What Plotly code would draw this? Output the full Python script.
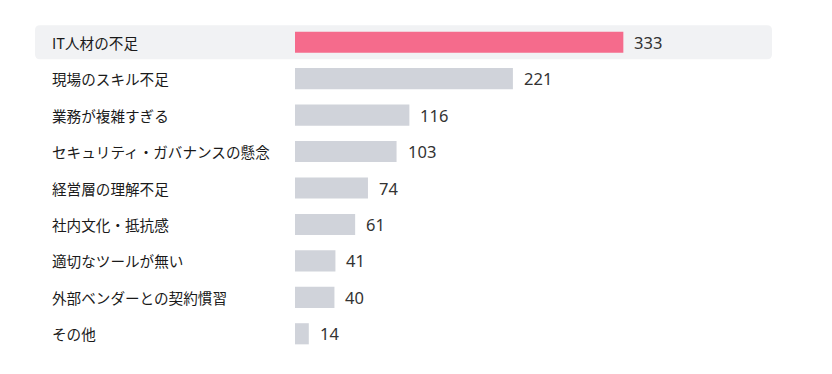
import plotly.graph_objects as go

categories = ["IT人材の不足", "現場のスキル不足", "業務が複雑すぎる", "セキュリティ・ガバナンスの懸念",
              "経営層の理解不足", "社内文化・抵抗感", "適切なツールが無い", "外部ベンダーとの契約慣習", "その他"]
values = [333, 221, 116, 103, 74, 61, 41, 40, 14]

OFF = 8  # page body margin
W, H = 832 - OFF, 374 - OFF
L, R_ = 295 - OFF, 772 - OFF
T, B = 24 - OFF, 352 - OFF
xmax = (R_ - L) / 0.986
n = len(categories)

colors = ["#f56b8c" if i == 0 else "#d0d3da" for i in range(n)]

fig = go.Figure()
fig.add_trace(go.Bar(
    x=values, y=categories, orientation="h",
    marker=dict(color=colors, line=dict(width=0)),
    width=0.58, hoverinfo="skip",
))

pw, ph = R_ - L, B - T
row_h = ph / n
x0p, x1p = 35 - OFF, 772 - OFF
yc = T + row_h * 0.5
y0p, y1p = yc - 17, yc + 17
r = 5
def px(x): return (x - L) / pw
def py(y): return 1 - (y - T) / ph
path = (f"M {px(x0p + r)} {py(y0p)} L {px(x1p - r)} {py(y0p)} "
        f"Q {px(x1p)} {py(y0p)} {px(x1p)} {py(y0p + r)} "
        f"L {px(x1p)} {py(y1p - r)} Q {px(x1p)} {py(y1p)} {px(x1p - r)} {py(y1p)} "
        f"L {px(x0p + r)} {py(y1p)} Q {px(x0p)} {py(y1p)} {px(x0p)} {py(y1p - r)} "
        f"L {px(x0p)} {py(y0p + r)} Q {px(x0p)} {py(y0p)} {px(x0p + r)} {py(y0p)} Z")
fig.add_shape(type="path", path=path, xref="paper", yref="paper",
              fillcolor="#f1f2f4", line=dict(width=0), layer="below")

font_family = "Noto Sans CJK JP, Noto Sans, sans-serif"
for c, v in zip(categories, values):
    fig.add_annotation(x=(50 - OFF - L) / pw, xref="paper", y=c, yref="y", text=c,
                       showarrow=False, xanchor="left", yanchor="middle",
                       font=dict(size=14.6, color="#1a1a1a", family=font_family))
    fig.add_annotation(x=v, xref="x", y=c, yref="y", text=str(v),
                       showarrow=False, xanchor="left", yanchor="middle", xshift=9,
                       font=dict(size=16.5, color="#333333", family="Noto Sans, sans-serif"))

fig.update_layout(
    width=W, height=H,
    margin=dict(l=L, r=W - R_, t=T, b=H - B),
    paper_bgcolor="white", plot_bgcolor="rgba(0,0,0,0)",
    showlegend=False,
    xaxis=dict(range=[0, xmax], visible=False, fixedrange=True),
    yaxis=dict(categoryorder="array", categoryarray=categories[::-1],
               showticklabels=False, showgrid=False, zeroline=False, fixedrange=True),
)
fig.write_html("out.html", config={"displayModeBar": False})
